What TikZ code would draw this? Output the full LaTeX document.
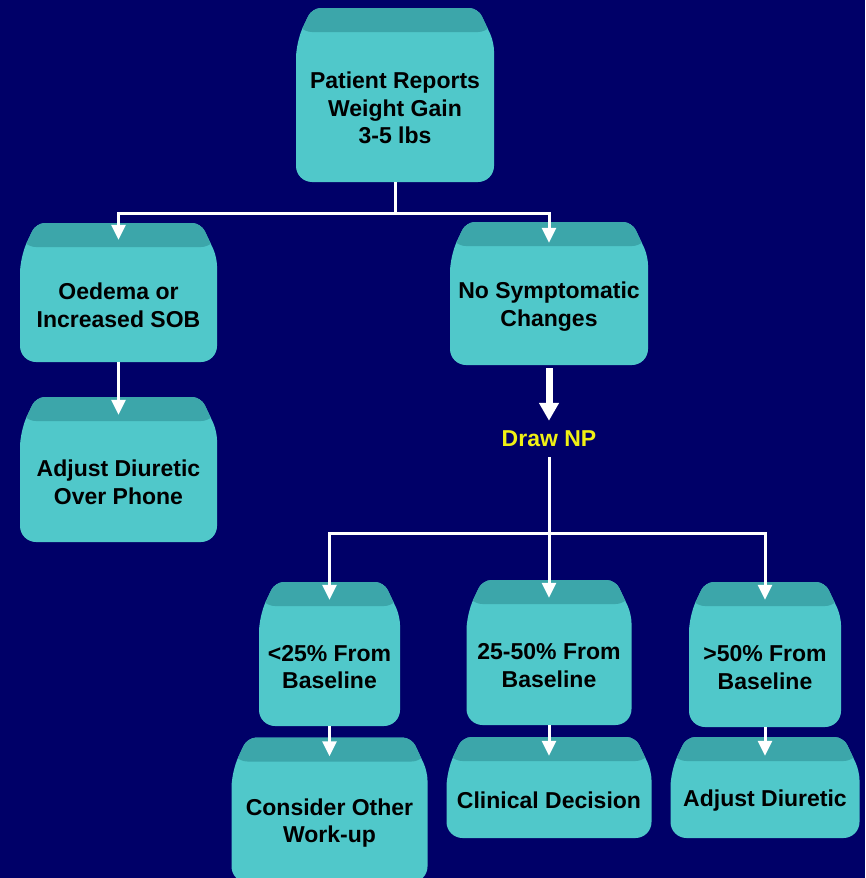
\documentclass[tikz,border=0pt]{standalone}
\usepackage{fontspec}
\setmainfont{Liberation Sans}
\usepackage{xcolor}
\usetikzlibrary{arrows.meta}

\definecolor{navybg}{RGB}{0,0,104}
\definecolor{boxbody}{RGB}{80,200,202}
\definecolor{boxtop}{RGB}{60,166,170}
\definecolor{npyellow}{RGB}{240,240,20}

\tikzset{
	box/.style={inner sep=0pt,
		path picture={
			\fill[boxbody, rounded corners=16pt,
				path picture={\fill[boxtop] (path picture bounding box.north west) rectangle ([yshift=-24pt]path picture bounding box.north east);}]
				([yshift=-34pt]path picture bounding box.north west) [rounded corners=9pt] -- ([xshift=16pt]path picture bounding box.north west)
				-- ([xshift=-16pt]path picture bounding box.north east) -- ([yshift=-34pt]path picture bounding box.north east)
				[rounded corners=16pt] -- (path picture bounding box.south east) -- (path picture bounding box.south west) -- cycle;
		}},
	boxtext/.style={align=center, yshift=-13pt, font=\bfseries\fontsize{23}{27.5}\selectfont},
	line/.style={draw=white, line width=3pt},
	link/.style={line, -{Triangle[length=15pt,width=14pt]}},
	biglink/.style={draw=white, line width=7pt, -{Triangle[length=18pt,width=19pt]}}
}

\begin{document}
\begin{tikzpicture}[x=1pt, y=-1pt]
			\useasboundingbox (0,0) rectangle (865,878);
			\fill[navybg] (0,0) rectangle (865,878);
			
			% boxes
			\node[box, minimum width=198pt, minimum height=174pt] (report) at (395,95) {};
			\node[box, minimum width=197pt, minimum height=139pt] (oedema) at (118.5,292.5) {};
			\node[box, minimum width=197pt, minimum height=145pt] (phone) at (118.5,469.5) {};
			\node[box, minimum width=198pt, minimum height=143pt] (nochange) at (549,293.5) {};
			\node[box, minimum width=141pt, minimum height=144pt] (low) at (329.5,654) {};
			\node[box, minimum width=165pt, minimum height=145pt] (mid) at (549,652.5) {};
			\node[box, minimum width=152pt, minimum height=145pt] (high) at (765,654.5) {};
			\node[box, minimum width=196pt, minimum height=145pt] (workup) at (329.5,810) {};
			\node[box, minimum width=205pt, minimum height=101pt] (clinical) at (549,787.5) {};
			\node[box, minimum width=189pt, minimum height=101pt] (adjust) at (765,787.5) {};
			
			\node[boxtext] (reporttxt) at (report.center) {Patient Reports\\Weight Gain\\3-5 lbs};
			\node[boxtext] (oedematxt) at (oedema.center) {Oedema or\\Increased SOB};
			\node[boxtext] (phonetxt) at (phone.center) {Adjust Diuretic\\Over Phone};
			\node[boxtext] (nochangetxt) at (nochange.center) {No Symptomatic\\Changes};
			\node[boxtext] (lowtxt) at (low.center) {<25\% From\\Baseline};
			\node[boxtext] (midtxt) at (mid.center) {25-50\% From\\Baseline};
			\node[boxtext] (hightxt) at (high.center) {>50\% From\\Baseline};
			\node[boxtext] (workuptxt) at (workup.center) {Consider Other\\Work-up};
			\node[boxtext] (clinicaltxt) at (clinical.center) {Clinical Decision};
			\node[boxtext] (adjusttxt) at (adjust.center) {Adjust Diuretic};
			
			\node[font=\bfseries\fontsize{23}{27.5}\selectfont, text=npyellow, inner sep=10pt] (drawnp) at (549,439) {Draw NP};
			
			% connectors
			\coordinate (topsplit) at (395,213);
			\coordinate (npsplit) at (549,533);
			\draw[line] (report.south) -- (topsplit);
			\draw[link] (topsplit) -| ([yshift=-17pt]oedema.north);
			\draw[link] (topsplit) -| ([yshift=-21pt]nochange.north);
			\draw[link] (oedema.south) -- ([yshift=-18pt]phone.north);
			\draw[biglink] ([yshift=-3pt]nochange.south) -- (drawnp.north);
			\draw[link] (drawnp.south) -- ([yshift=-18pt]mid.north);
			\draw[link] (npsplit) -| ([yshift=-18pt]low.north);
			\draw[link] (npsplit) -| ([yshift=-18pt]high.north);
			\draw[link] (low.south) -- ([yshift=-19pt]workup.north);
			\draw[link] (mid.south) -- ([yshift=-19pt]clinical.north);
			\draw[link] (high.south) -- ([yshift=-19pt]adjust.north);
		\end{tikzpicture}
\end{document}
